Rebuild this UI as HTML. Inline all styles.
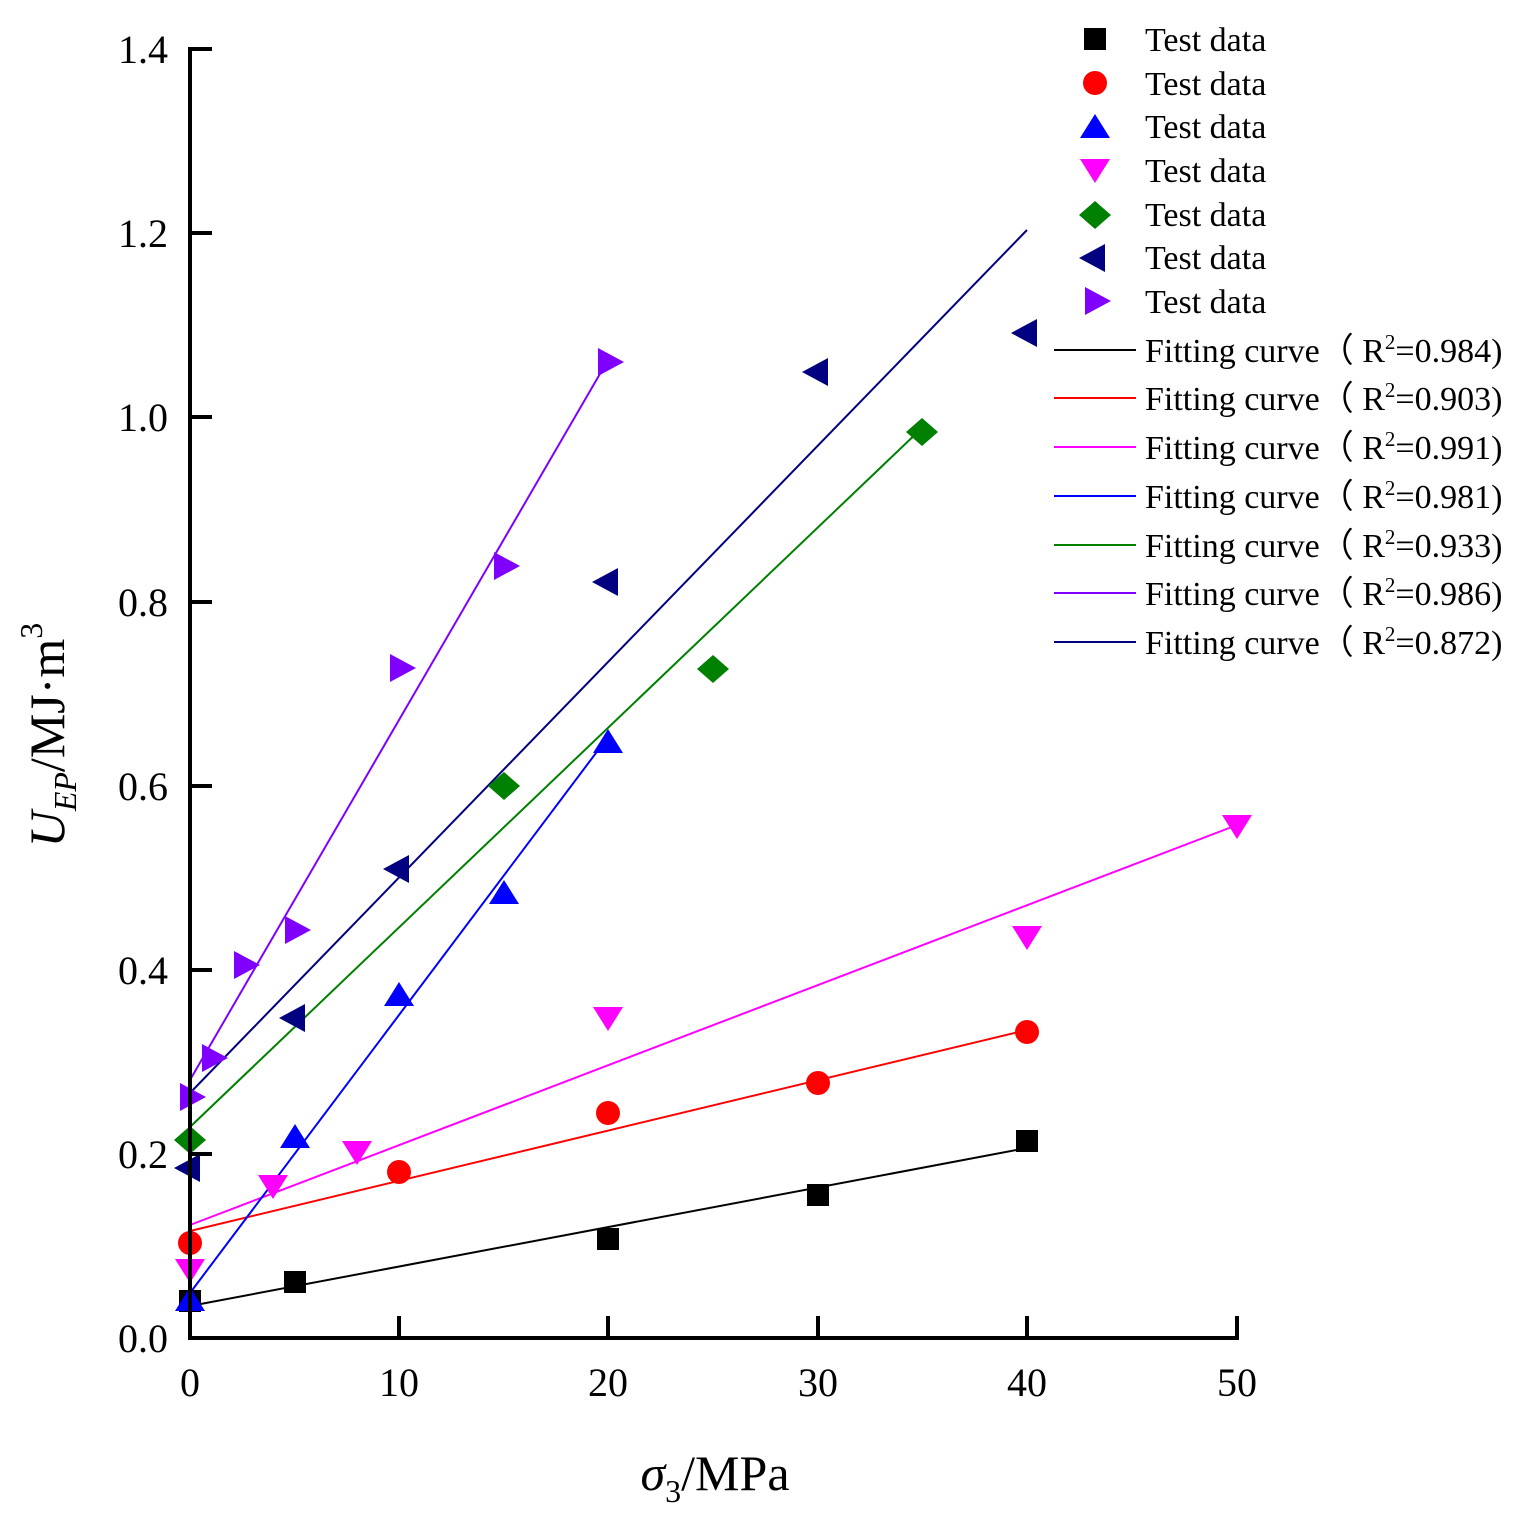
<!DOCTYPE html>
<html><head><style>body{margin:0;background:#fff}svg{display:block}text{font-family:"Liberation Serif",serif}</style></head>
<body>
<svg width="1526" height="1539" viewBox="0 0 1526 1539" xmlns="http://www.w3.org/2000/svg">
<defs>
<rect id="sq" x="-11" y="-11" width="22" height="22" fill="#000"/>
<circle id="ci" r="12" fill="#f00"/>
<polygon id="tu" points="0,-13 15,11 -15,11" fill="#00f"/>
<polygon id="td" points="-15,-11 15,-11 0,13" fill="#f0f"/>
<polygon id="di" points="0,-14 16,0 0,14 -16,0" fill="#008000"/>
<polygon id="tl" points="-14,0 12,-14 12,14" fill="#000080"/>
<polygon id="tr" points="14,0 -12,-14 -12,14" fill="#8000ff"/>
</defs>
<g stroke-width="2" fill="none">
<line x1="190" y1="1306" x2="1027" y2="1148" stroke="#000"/>
<line x1="190" y1="1231" x2="1027" y2="1030" stroke="#f00"/>
<line x1="190" y1="1225" x2="1237" y2="825" stroke="#f0f"/>
<line x1="190" y1="1293" x2="608" y2="737" stroke="#00f"/>
<line x1="190" y1="1127" x2="922" y2="428" stroke="#008000"/>
<line x1="190" y1="1080" x2="608" y2="360" stroke="#8000ff"/>
<line x1="190" y1="1093" x2="1027" y2="230" stroke="#000080"/>
</g>
<use href="#sq" x="190" y="1301"/><use href="#sq" x="295" y="1282"/><use href="#sq" x="608" y="1239"/><use href="#sq" x="818" y="1195"/><use href="#sq" x="1027" y="1141"/>
<use href="#ci" x="190" y="1243"/><use href="#ci" x="399" y="1172"/><use href="#ci" x="608" y="1113"/><use href="#ci" x="818" y="1083"/><use href="#ci" x="1027" y="1032"/>
<use href="#tu" x="190" y="1300"/><use href="#tu" x="295" y="1137"/><use href="#tu" x="399" y="995"/><use href="#tu" x="504" y="893"/><use href="#tu" x="608" y="742"/>
<use href="#td" x="190" y="1270"/><use href="#td" x="273" y="1186"/><use href="#td" x="357" y="1152"/><use href="#td" x="608" y="1018"/><use href="#td" x="1027" y="937"/><use href="#td" x="1237" y="826"/>
<use href="#di" x="190" y="1140"/><use href="#di" x="504" y="786"/><use href="#di" x="713" y="669"/><use href="#di" x="922" y="432"/>
<use href="#tl" x="188" y="1168"/><use href="#tl" x="293" y="1018"/><use href="#tl" x="397" y="869"/><use href="#tl" x="606" y="582"/><use href="#tl" x="816" y="372"/><use href="#tl" x="1025" y="333"/>
<use href="#tr" x="192" y="1097"/><use href="#tr" x="214" y="1058"/><use href="#tr" x="246" y="965"/><use href="#tr" x="297" y="930"/><use href="#tr" x="402" y="668"/><use href="#tr" x="506" y="566"/><use href="#tr" x="610" y="362"/>
<g stroke="#000" stroke-width="4" fill="none">
<line x1="190" y1="47" x2="190" y2="1340"/>
<line x1="188" y1="1338" x2="1239" y2="1338"/>
<line x1="190" y1="49" x2="212" y2="49"/><line x1="190" y1="233" x2="212" y2="233"/><line x1="190" y1="417" x2="212" y2="417"/><line x1="190" y1="602" x2="212" y2="602"/><line x1="190" y1="786" x2="212" y2="786"/><line x1="190" y1="970" x2="212" y2="970"/><line x1="190" y1="1154" x2="212" y2="1154"/>
<line x1="399" y1="1338" x2="399" y2="1316"/><line x1="608" y1="1338" x2="608" y2="1316"/><line x1="818" y1="1338" x2="818" y2="1316"/><line x1="1027" y1="1338" x2="1027" y2="1316"/><line x1="1237" y1="1338" x2="1237" y2="1316"/>
</g>
<g font-size="40" text-anchor="end">
<text x="168" y="63">1.4</text><text x="168" y="247">1.2</text><text x="168" y="431">1.0</text><text x="168" y="616">0.8</text><text x="168" y="800">0.6</text><text x="168" y="984">0.4</text><text x="168" y="1168">0.2</text><text x="168" y="1352">0.0</text>
</g>
<g font-size="40" text-anchor="middle">
<text x="190" y="1396">0</text><text x="399" y="1396">10</text><text x="608" y="1396">20</text><text x="818" y="1396">30</text><text x="1027" y="1396">40</text><text x="1237" y="1396">50</text>
</g>
<text x="715" y="1490" font-size="50" text-anchor="middle"><tspan font-style="italic">σ</tspan><tspan font-size="32" dy="12">3</tspan><tspan dy="-12">/MPa</tspan></text>
<text transform="translate(64,735) rotate(-90)" font-size="50" text-anchor="middle"><tspan font-style="italic">U</tspan><tspan font-style="italic" font-size="32" dy="12">EP</tspan><tspan dy="-12">/MJ·m</tspan><tspan font-size="32" dy="-22">3</tspan></text>
<use href="#sq" x="1095" y="39"/><use href="#ci" x="1095" y="83"/><use href="#tu" x="1095" y="127"/><use href="#td" x="1095" y="170"/><use href="#di" x="1095" y="215"/><use href="#tl" x="1093" y="258"/><use href="#tr" x="1097" y="301"/>
<g font-size="34">
<text x="1145" y="51">Test data</text><text x="1145" y="95">Test data</text><text x="1145" y="138">Test data</text><text x="1145" y="182">Test data</text><text x="1145" y="226">Test data</text><text x="1145" y="269">Test data</text><text x="1145" y="313">Test data</text>
</g>
<g stroke-width="2">
<line x1="1054" y1="350" x2="1136" y2="350" stroke="#000"/>
<line x1="1054" y1="398" x2="1136" y2="398" stroke="#f00"/>
<line x1="1054" y1="447" x2="1136" y2="447" stroke="#f0f"/>
<line x1="1054" y1="496" x2="1136" y2="496" stroke="#00f"/>
<line x1="1054" y1="545" x2="1136" y2="545" stroke="#008000"/>
<line x1="1054" y1="593" x2="1136" y2="593" stroke="#8000ff"/>
<line x1="1054" y1="642" x2="1136" y2="642" stroke="#000080"/>
</g>
<g font-size="34">
<text x="1145" y="362">Fitting curve（ R<tspan font-size="21" dy="-13">2</tspan><tspan dy="13">=0.984)</tspan></text>
<text x="1145" y="410">Fitting curve（ R<tspan font-size="21" dy="-13">2</tspan><tspan dy="13">=0.903)</tspan></text>
<text x="1145" y="459">Fitting curve（ R<tspan font-size="21" dy="-13">2</tspan><tspan dy="13">=0.991)</tspan></text>
<text x="1145" y="508">Fitting curve（ R<tspan font-size="21" dy="-13">2</tspan><tspan dy="13">=0.981)</tspan></text>
<text x="1145" y="557">Fitting curve（ R<tspan font-size="21" dy="-13">2</tspan><tspan dy="13">=0.933)</tspan></text>
<text x="1145" y="605">Fitting curve（ R<tspan font-size="21" dy="-13">2</tspan><tspan dy="13">=0.986)</tspan></text>
<text x="1145" y="654">Fitting curve（ R<tspan font-size="21" dy="-13">2</tspan><tspan dy="13">=0.872)</tspan></text>
</g>
</svg>
</body></html>
